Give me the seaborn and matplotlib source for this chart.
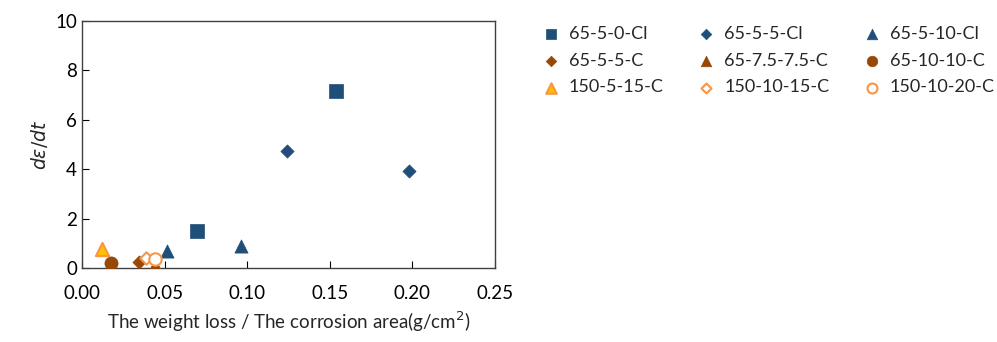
import pandas as pd
import numpy as np
import seaborn as sns
import matplotlib.pyplot as plt

# Data
series = ['65-5-0-Cl', '65-5-5-Cl', '65-5-10-Cl',
          '65-5-5-C', '65-7.5-7.5-C', '65-10-10-C',
          '150-5-15-C', '150-10-15-C', '150-10-20-C']
x_vals = [[0.0696, 0.154], [0.124, 0.198], [0.0515, 0.096],
          [0.0345], [0.044], [0.0176],
          [0.012], [0.039], [0.044]]
y_vals = [[1.50, 7.17], [4.74, 3.93], [0.69, 0.89],
          [0.25], [0.12], [0.20],
          [0.77], [0.40], [0.36]]

blue = '#1F4E79'
brown = '#974706'
orange = '#F79646'
styles = {
    '65-5-0-Cl': dict(marker='s', s=90, color=blue, edgecolor=blue),
    '65-5-5-Cl': dict(marker='D', s=45, color=blue, edgecolor=blue),
    '65-5-10-Cl': dict(marker='^', s=90, color=blue, edgecolor=blue),
    '65-5-5-C': dict(marker='D', s=45, color=brown, edgecolor=brown),
    '65-7.5-7.5-C': dict(marker='^', s=90, color=brown, edgecolor=brown),
    '65-10-10-C': dict(marker='o', s=90, color=brown, edgecolor=brown),
    '150-5-15-C': dict(marker='^', s=90, color='#FFC000', edgecolor=orange, linewidth=1.5),
    '150-10-15-C': dict(marker='D', s=40, color='white', edgecolor=orange, linewidth=1.5),
    '150-10-20-C': dict(marker='o', s=80, color='white', edgecolor=orange, linewidth=1.5),
}

rows = []
for name, xs, ys in zip(series, x_vals, y_vals):
    for xv, yv in zip(xs, ys):
        rows.append({'series': name, 'x': xv, 'y': yv})
df = pd.DataFrame(rows)

sns.set_style('ticks')
plt.rcParams['font.family'] = ['Lato', 'DejaVu Sans']

fig = plt.figure(figsize=(9.97, 3.42), dpi=100)
ax = fig.add_axes([0.0822, 0.2164, 0.4143, 0.7222])

for name in series:
    st = dict(styles[name])
    sub = df[df['series'] == name]
    lw = st.pop('linewidth', 0.5)
    sns.scatterplot(data=sub, x='x', y='y', ax=ax, label=name,
                    linewidth=lw, zorder=3, **st)

ax.set_xlim(0, 0.25)
ax.set_ylim(0, 10)
ax.set_xticks(np.arange(0, 0.2501, 0.05))
ax.set_xticklabels(['%.2f' % v for v in np.arange(0, 0.2501, 0.05)])
ax.set_yticks(range(0, 11, 2))
ax.tick_params(direction='in', length=5, labelsize=13.5, colors='black', width=0.8)
ax.tick_params(axis='x', pad=12)
for sp in ax.spines.values():
    sp.set_visible(True)
    sp.set_color('#404040')
    sp.set_linewidth(1)
ax.set_xlabel('The weight loss / The corrosion area(g/cm$^2$)', fontsize=13.5, labelpad=6)
ax.set_ylabel(r'$d\varepsilon/dt$', fontsize=13.5, labelpad=4)

handles, labels = ax.get_legend_handles_labels()
ax.get_legend().remove()
# legend fills column by column, so reorder to read row by row
order = [0, 3, 6, 1, 4, 7, 2, 5, 8]
fig.legend([handles[i] for i in order], [labels[i] for i in order],
           ncol=3, loc='upper left', bbox_to_anchor=(0.518, 0.972),
           frameon=False, fontsize=13, handletextpad=0.0, columnspacing=1.35,
           labelspacing=0.6, markerscale=0.8)

fig.savefig('out.png', dpi=100)
